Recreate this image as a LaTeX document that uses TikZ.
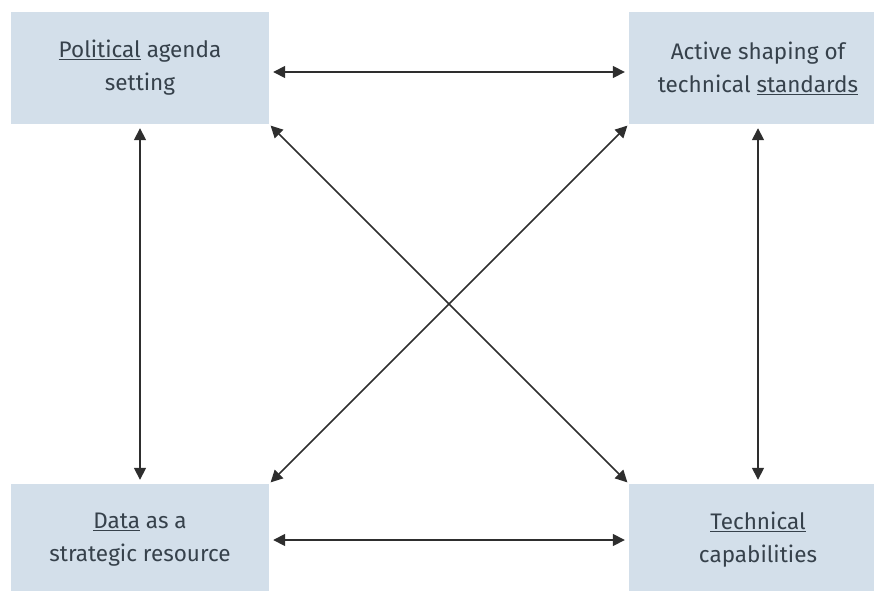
\documentclass[tikz,border=0pt]{standalone}
\usepackage{fontspec}
\setmainfont{Fira Sans}
\usetikzlibrary{arrows.meta}

\definecolor{boxblue}{HTML}{D3DFEA}
\definecolor{boxtext}{HTML}{36414B}
\definecolor{linkgray}{HTML}{2E2E2E}

\begin{document}
\begin{tikzpicture}[x=1pt,y=1pt,
    box/.style={rectangle,fill=boxblue,text=boxtext,inner sep=0pt,
        minimum width=258pt,minimum height=112pt,align=center,
        font=\fontsize{22.5}{33}\selectfont},
    link/.style={draw=linkgray,line width=1.6pt,
        {Triangle[length=12pt,width=12pt]}-{Triangle[length=12pt,width=12pt]},
        shorten <=4pt,shorten >=4pt}]
    \useasboundingbox (0,0) rectangle (874,590);

    \node [box] (pol) at (140,522) {\underline{Political} agenda\\setting};
    \node [box] (std) at (758,522) {Active shaping of\\technical \underline{standards}};
    \node [box] (dat) at (140,50) {\underline{Data} as a\\strategic resource};
    \node [box] (tec) at (758,50) {\underline{Technical}\\capabilities};

    % sides of the square
    \draw[link] ([yshift=-4pt]pol.east) -- ([yshift=-4pt]std.west);
    \draw[link] ([yshift=0pt]dat.east) -- ([yshift=0pt]tec.west);
    \draw[link] (pol.south) -- (dat.north);
    \draw[link] (std.south) -- (tec.north);

    % diagonals
    \draw[link,shorten <=2pt,shorten >=2pt] (pol.south east) -- (tec.north west);
    \draw[link,shorten <=2pt,shorten >=2pt] (std.south west) -- (dat.north east);
\end{tikzpicture}
\end{document}
